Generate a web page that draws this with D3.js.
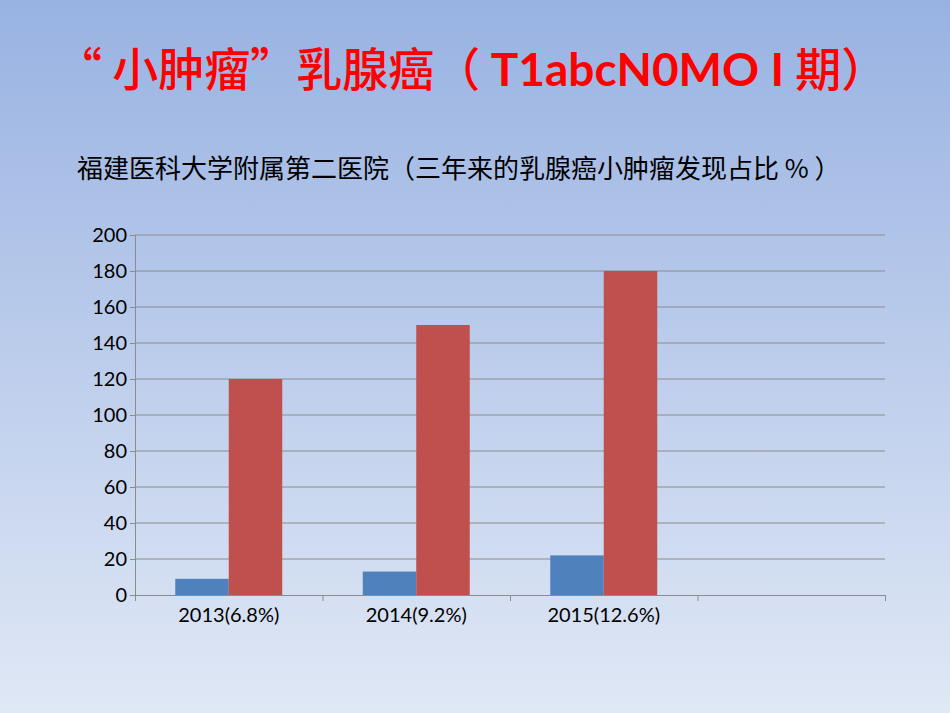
<!DOCTYPE html>
<html>
<head>
<meta charset="utf-8">
<script src="https://cdn.jsdelivr.net/npm/d3@7"></script>
<style>
  html, body { margin: 0; padding: 0; }
  body { width: 950px; height: 713px; overflow: hidden; }
</style>
</head>
<body>
<svg width="950" height="713"></svg>
<script>
var categories = ["2013(6.8%)", "2014(9.2%)", "2015(12.6%)", ""];
var seriesA = [9, 13, 22, null];
var seriesB = [120, 150, 180, null];
var yTicks = [0, 20, 40, 60, 80, 100, 120, 140, 160, 180, 200];

var svg = d3.select("svg"),
    margin = {top: 235, right: 65, bottom: 118, left: 135},
    width = +svg.attr("width") - margin.left - margin.right,
    height = +svg.attr("height") - margin.top - margin.bottom;

// background gradient
var grad = svg.append("defs").append("linearGradient")
    .attr("id", "bg")
    .attr("x1", 0).attr("y1", 0).attr("x2", 0).attr("y2", 1);
grad.append("stop").attr("offset", "0%").attr("stop-color", "#98b2e2");
grad.append("stop").attr("offset", "100%").attr("stop-color", "#e0e8f5");
svg.append("rect").attr("width", 950).attr("height", 713).attr("fill", "url(#bg)");

// titles
var title = svg.append("text")
    .attr("x", 56).attr("y", 86)
    .attr("fill", "#ff0000")
    .style("font-family", "'Noto Sans CJK SC', sans-serif")
    .style("font-weight", "500")
    .style("font-size", "46px");
title.append("tspan").text("“ 小肿瘤”乳腺癌（ ");
title.append("tspan").style("font-family", "Lato, 'Noto Sans', sans-serif")
    .style("font-weight", "bold").text("T1abcN0MO I ");
title.append("tspan").text("期）");

svg.append("text")
    .attr("x", 77).attr("y", 178)
    .attr("fill", "#000")
    .style("font-family", "'Noto Sans CJK SC', sans-serif")
    .style("font-size", "26px")
    .text("福建医科大学附属第二医院（三年来的乳腺癌小肿瘤发现占比 % ）");

var g = svg.append("g").attr("transform", "translate(" + margin.left + "," + margin.top + ")");

var x = d3.scaleBand()
    .domain(d3.range(categories.length))
    .range([0, width])
    .padding(0);

var x1 = d3.scaleBand()
    .domain([0, 1])
    .range([x.bandwidth() * 0.2147, x.bandwidth() * 0.7853]);

var y = d3.scaleLinear()
    .domain([0, 200])
    .range([height, 0]);

// gridlines
g.append("g")
    .selectAll("line")
    .data(yTicks.slice(1))
  .enter().append("line")
    .attr("x1", 0).attr("x2", width)
    .attr("y1", function(d) { return y(d); })
    .attr("y2", function(d) { return y(d); })
    .attr("stroke", "#8c8c8c")
    .attr("stroke-width", 1.2);

// y axis
var yAxis = g.append("g")
    .call(d3.axisLeft(y).tickValues(yTicks).tickSize(5).tickPadding(3));
yAxis.select(".domain").attr("stroke", "#8c8c8c");
yAxis.selectAll(".tick line").attr("stroke", "#8c8c8c");
yAxis.selectAll("text")
    .attr("fill", "#000")
    .style("font-family", "Lato, 'Open Sans', sans-serif")
    .style("font-size", "20px");

// x axis
var xAxis = g.append("g")
    .attr("transform", "translate(0," + height + ")")
    .call(d3.axisBottom(d3.scaleLinear().domain([0, categories.length]).range([0, width]))
        .ticks(categories.length).tickSize(6).tickFormat(""));
xAxis.select(".domain").attr("stroke", "#8c8c8c");
xAxis.selectAll(".tick line").attr("stroke", "#8c8c8c");

g.append("g")
    .selectAll("text")
    .data(categories)
  .enter().append("text")
    .attr("x", function(d, i) { return x(i) + x.bandwidth() / 2; })
    .attr("y", height + 27)
    .attr("text-anchor", "middle")
    .attr("fill", "#000")
    .style("font-family", "Lato, 'Open Sans', sans-serif")
    .style("font-size", "20px")
    .text(function(d) { return d; });

// bars
var series = [
  {values: seriesA, color: "#4f81bd"},
  {values: seriesB, color: "#c0504d"}
];

series.forEach(function(s, k) {
  g.append("g")
    .selectAll("rect")
    .data(s.values)
  .enter().filter(function(d) { return d != null; }).append("rect")
    .attr("x", function(d, i) { return x(i) + x1(k); })
    .attr("y", function(d) { return y(d); })
    .attr("width", x1.bandwidth())
    .attr("height", function(d) { return height - y(d); })
    .attr("fill", s.color);
});
</script>
</body>
</html>
